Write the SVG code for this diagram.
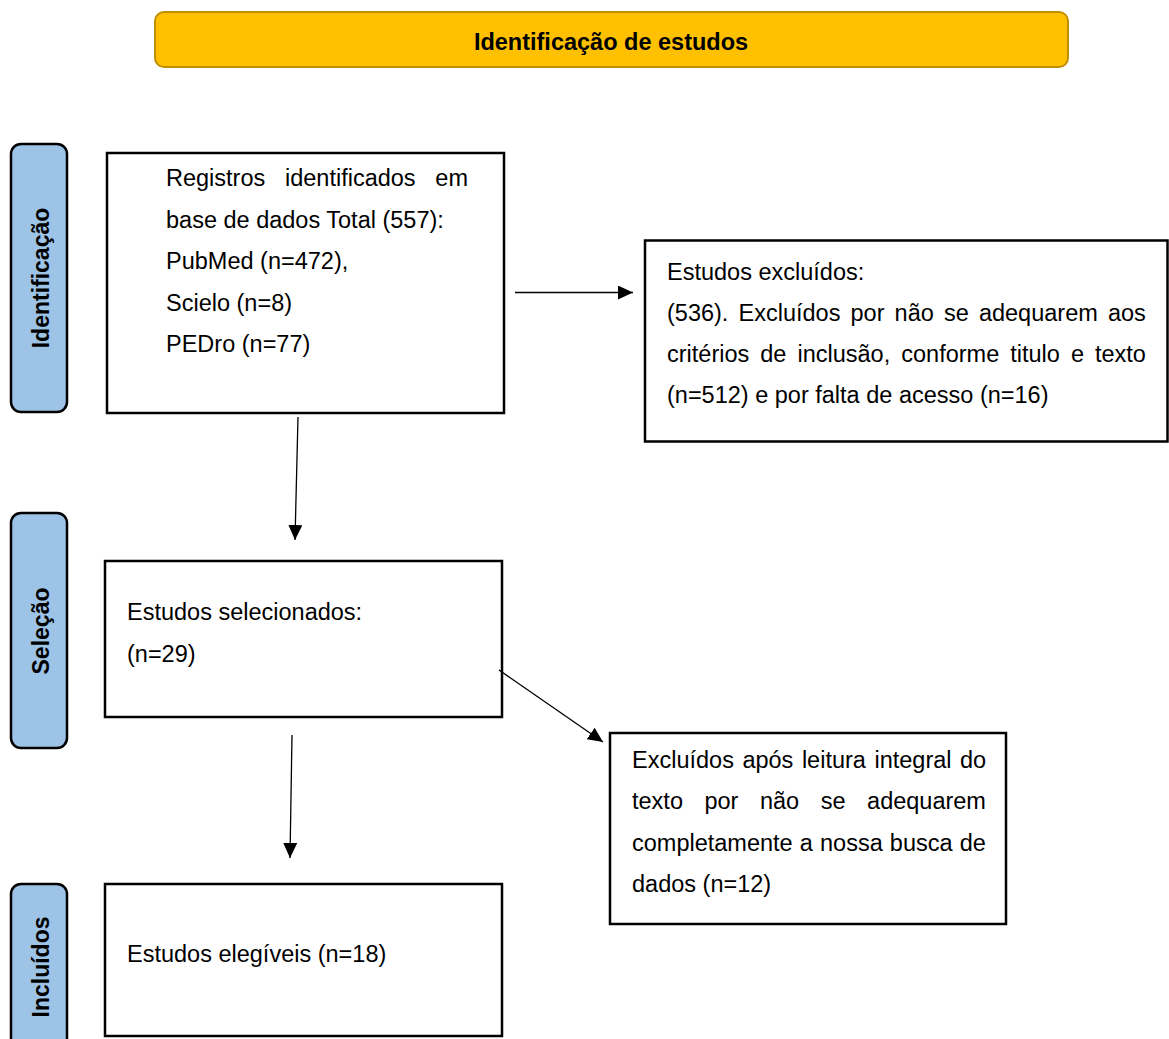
<svg xmlns="http://www.w3.org/2000/svg" width="1169" height="1039" viewBox="0 0 1169 1039">
<defs>
<marker id="arrow" markerUnits="userSpaceOnUse" markerWidth="15" markerHeight="14" refX="15" refY="7" orient="auto">
<path d="M0,0 L15,7 L0,14 z" fill="#000"/>
</marker>
<style>
.box{fill:#fff;stroke:#000;stroke-width:2.5}
.side{fill:#9DC3E6;stroke:#000;stroke-width:2.5}
.t{font-family:"Liberation Sans",Arial,sans-serif;font-size:23.5px;fill:#000}
.sl{font-family:"Liberation Sans",Arial,sans-serif;font-size:23px;font-weight:bold;fill:#000;text-anchor:middle}
.conn{stroke:#000;stroke-width:1.3;fill:none;marker-end:url(#arrow)}
</style>
</defs>
<rect width="1169" height="1039" fill="#fff"/>

<g id="title">
<rect x="155" y="12" width="913" height="55" rx="9" fill="#FFC000" stroke="#BF9000" stroke-width="2"/>
<text x="611" y="50" class="t" style="font-weight:bold" text-anchor="middle">Identificação de estudos</text>
</g>

<g id="side-identificacao">
<rect x="11" y="144" width="56" height="268" rx="10" class="side"/>
<text class="sl" transform="translate(48.5,278) rotate(-90)">Identificação</text>
</g>
<g id="side-selecao">
<rect x="11" y="513" width="56" height="235" rx="10" class="side"/>
<text class="sl" transform="translate(48.5,631) rotate(-90)">Seleção</text>
</g>
<g id="side-incluidos">
<rect x="11" y="884" width="56" height="200" rx="10" class="side"/>
<text class="sl" transform="translate(48.5,967) rotate(-90)">Incluídos</text>
</g>

<g id="box-registros">
<rect x="107" y="153" width="397" height="260" class="box"/>
<text class="t" x="166" y="186" style="word-spacing:13.2px">Registros identificados em</text>
<text class="t" x="166" y="227.5">base de dados Total (557):</text>
<text class="t" x="166" y="269">PubMed (n=472),</text>
<text class="t" x="166" y="310.5">Scielo (n=8)</text>
<text class="t" x="166" y="352">PEDro (n=77)</text>
</g>

<g id="box-excluidos">
<rect x="645" y="240.5" width="522.5" height="201" class="box"/>
<text class="t" x="667" y="279.5">Estudos excluídos:</text>
<text class="t" x="667" y="320.5" style="word-spacing:3.6px">(536). Excluídos por não se adequarem aos</text>
<text class="t" x="667" y="361.5" style="word-spacing:4.5px">critérios de inclusão, conforme titulo e texto</text>
<text class="t" x="667" y="402.5">(n=512) e por falta de acesso (n=16)</text>
</g>

<g id="box-selecionados">
<rect x="105" y="561" width="397" height="156" class="box"/>
<text class="t" x="127" y="620">Estudos selecionados:</text>
<text class="t" x="127" y="662">(n=29)</text>
</g>

<g id="box-excluidos-leitura">
<rect x="610" y="733" width="396" height="191" class="box"/>
<text class="t" x="632" y="768" style="word-spacing:2px">Excluídos após leitura integral do</text>
<text class="t" x="632" y="809" style="word-spacing:15px">texto por não se adequarem</text>
<text class="t" x="632" y="850.5" style="word-spacing:0.6px">completamente a nossa busca de</text>
<text class="t" x="632" y="892">dados (n=12)</text>
</g>

<g id="box-elegiveis">
<rect x="105" y="884" width="397" height="152" class="box"/>
<text class="t" x="127" y="962">Estudos elegíveis (n=18)</text>
</g>

<g id="connectors">
<line class="conn" x1="515" y1="292.5" x2="633" y2="292.5"/>
<line class="conn" x1="298" y1="417" x2="295" y2="540"/>
<line class="conn" x1="499" y1="670" x2="603" y2="742"/>
<line class="conn" x1="292" y1="735" x2="290" y2="858"/>
</g>
</svg>
